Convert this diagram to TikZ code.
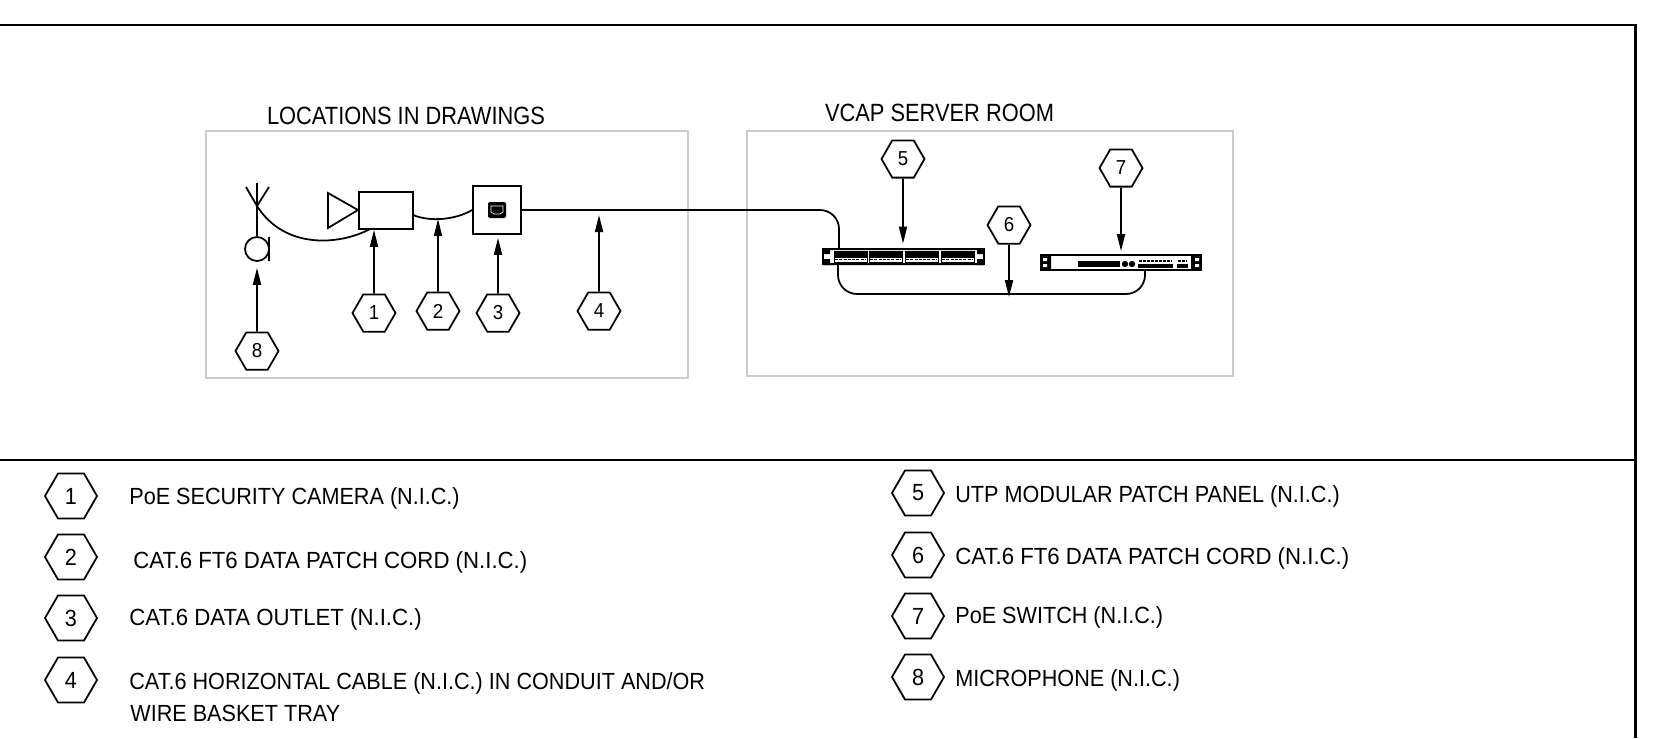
\documentclass[tikz,border=0pt]{standalone}
\usepackage{fontspec}
\setmainfont{Liberation Sans}[FakeStretch=0.925]
\newfontfamily\widerfont{Liberation Sans}[FakeStretch=0.95]
\newfontfamily\titlefont{Liberation Sans}[FakeStretch=0.875]
\usetikzlibrary{arrows.meta, shapes.geometric}

\tikzset{
  wire/.style={line width=1pt, black},
  leader/.style={line width=1pt, -{Triangle[length=3.4mm, width=1.6mm]}},
  zonebox/.style={draw=black!20, line width=1.2pt, inner sep=0},
  devicebox/.style={draw=black, line width=1pt, inner sep=0, fill=white},
  tag/.style={draw, regular polygon, regular polygon sides=6, minimum size=0.86cm, inner sep=0, line width=1pt, font=\fontsize{11.5}{12}\selectfont},
  keytag/.style={draw, regular polygon, regular polygon sides=6, minimum size=1.04cm, inner sep=0, line width=1pt, font=\fontsize{13.3}{14}\selectfont},
  keytext/.style={anchor=base west, inner sep=0, font=\fontsize{13.3}{14}\selectfont},
  keywide/.style={anchor=base west, inner sep=0, font=\fontsize{13.3}{14}\widerfont},
  title/.style={anchor=base, inner sep=0, font=\fontsize{14.2}{15}\titlefont}
}

\begin{document}
\begin{tikzpicture}[x=0.2mm, y=-0.2mm]
  \useasboundingbox (0,0) rectangle (1661,738);

  % sheet lines
  \coordinate (sheetA) at (0,25);
  \coordinate (sheetB) at (1635.5,738);
  \coordinate (ruleA) at (0,460);
  \draw[line width=1.3pt] (sheetA) -| (sheetB);
  \draw[line width=1.3pt] (ruleA) -- (ruleA -| sheetB);

  % the two zones
  \node[zonebox, minimum width=9.64cm, minimum height=4.94cm] (zoneA) at (447,254.5) {};
  \node[zonebox, minimum width=9.72cm, minimum height=4.90cm] (zoneB) at (990,253.5) {};
  \node[title] (titleA) at (406,124.5) {LOCATIONS IN DRAWINGS};
  \node[title] (titleB) at (939.5,121.5) {VCAP SERVER ROOM};

  % microphone
  \node[draw, circle, minimum size=0.48cm, inner sep=0, line width=1pt] (micro) at (257,249) {};
  \coordinate (mictop) at (257,183);
  \coordinate (micjoint) at (257,206);
  \draw[wire] (mictop) -- (micro.north);
  \draw[wire] (246,187) -- (micjoint) -- (269,187);
  \draw[line width=1.4pt] (269,237) -- (269,261);

  % camera
  \node[devicebox, minimum width=1.08cm, minimum height=0.74cm] (cam) at (386,210.5) {};
  \draw[wire] (328,193) -- (358,210) -- (328,228) -- cycle;
  \coordinate (camlow) at (370,229);
  \coordinate (camout) at (413,215);
  \draw[wire] (micjoint) .. controls (285,250) and (340,245) .. (camlow);

  % outlet
  \node[devicebox, minimum width=0.96cm, minimum height=0.96cm] (outlet) at (497,210) {};
  \fill[rounded corners=0.4mm] (488,202) rectangle (506,218);
  \draw[white, line width=0.35pt] (491,206) -- (503,206) -- (503,212) -- (500,214) -- (494,214) -- (491,212) -- cycle;
  \coordinate (cordlow) at (440,219);
  \draw[wire] (camout) .. controls (430,222) and (455,220) .. (outlet.west);

  % patch panel
  \node[devicebox, minimum width=3.22cm, minimum height=0.32cm] (panel) at (903.5,256.5) {};
  \fill (823,248) rectangle (830,254) (823,259) rectangle (830,265);
  \fill (977,248) rectangle (984,254) (977,259) rectangle (984,265);
  \fill (823,248) rectangle (984,250) (823,263) rectangle (984,265);
  \foreach \px in {834,869,905,941} {
    \fill (\px,251) rectangle ++(33,6.5);
    \draw[line width=0.4pt] (\px,251) rectangle ++(33,11);
    \draw[line width=0.5pt, dash pattern=on 0.6mm off 0.25mm] (\px+1,259.5) -- ++(31,0);
  }

  % switch
  \node[devicebox, minimum width=3.2cm, minimum height=0.3cm] (swit) at (1121,262.5) {};
  \fill (1041,255) rectangle (1051,270) (1191,255) rectangle (1201,270);
  \fill[white] (1043,258) rectangle (1047,261) (1043,264) rectangle (1047,267);
  \fill[white] (1195,258) rectangle (1199,261) (1195,264) rectangle (1199,267);
  \fill (1078,261) rectangle (1120,267);
  \fill (1125,264) circle (3.2) (1132,264) circle (3.2);
  \fill (1138,264) rectangle (1173,268);
  \fill (1177,264) rectangle (1188,268);
  \draw[line width=1pt, dash pattern=on 0.5mm off 0.3mm] (1139,261) -- (1172,261);
  \draw[line width=1pt, dash pattern=on 0.5mm off 0.3mm] (1178,261) -- (1187,261);

  % cables
  \coordinate (paneltop) at (839,248);
  \coordinate (panelout) at (838,265);
  \coordinate (cordrun) at (1009,294);
  \coordinate (switout) at (1145,270);
  \draw[wire, rounded corners=3.8mm] (outlet.east) -| (paneltop);
  \draw[wire, rounded corners=3.8mm] (panelout) |- (cordrun) -| (switout);

  % tags in the drawing
  \node[tag] (h1) at (374,313) {1};
  \node[tag] (h2) at (438,311) {2};
  \node[tag] (h3) at (498,313) {3};
  \node[tag] (h4) at (599,311) {4};
  \node[tag] (h5) at (903,159) {5};
  \node[tag] (h6) at (1009,225) {6};
  \node[tag] (h7) at (1121,168) {7};
  \node[tag] (h8) at (257,351) {8};

  \draw[leader] (h1.north) -- (h1 |- cam.south);
  \draw[leader] (h2.north) -- (h2 |- cordlow);
  \draw[leader, shorten >=0.6mm] (h3.north) -- (h3 |- outlet.south);
  \draw[leader, shorten >=1mm] (h4.north) -- (h4 |- outlet.east);
  \draw[leader, shorten >=0.8mm] (h5.south) -- (h5 |- panel.north);
  \draw[leader, shorten >=-0.6mm] (h6.south) -- (cordrun);
  \draw[leader, shorten >=0.6mm] (h7.south) -- (h7 |- swit.north);
  \draw[leader, shorten >=1.2mm] (h8.north) -- (micro.south);

  % key
  \foreach \n/\ky in {1/496, 2/557, 3/618, 4/680} {
    \node[keytag] (k\n) at (71,\ky) {\n};
  }
  \foreach \n/\ky in {5/493, 6/555, 7/616, 8/677} {
    \node[keytag] (k\n) at (918,\ky) {\n};
  }
  \node[keytext] (t1) at (129,504.5) {PoE SECURITY CAMERA (N.I.C.)};
  \node[keywide] (t2) at (133,568) {CAT.6 FT6 DATA PATCH CORD (N.I.C.)};
  \node[keywide] (t3) at (129,625) {CAT.6 DATA OUTLET (N.I.C.)};
  \node[keytext] (t4) at (129,689.5) {CAT.6 HORIZONTAL CABLE (N.I.C.) IN CONDUIT AND/OR};
  \node[keytext] (t4b) at (130,721) {WIRE BASKET TRAY};
  \node[keytext] (t5) at (955,502.5) {UTP MODULAR PATCH PANEL (N.I.C.)};
  \node[keywide] (t6) at (955,564.5) {CAT.6 FT6 DATA PATCH CORD (N.I.C.)};
  \node[keytext] (t7) at (955,623.5) {PoE SWITCH (N.I.C.)};
  \node[keytext] (t8) at (955,686.5) {MICROPHONE (N.I.C.)};
\end{tikzpicture}
\end{document}
